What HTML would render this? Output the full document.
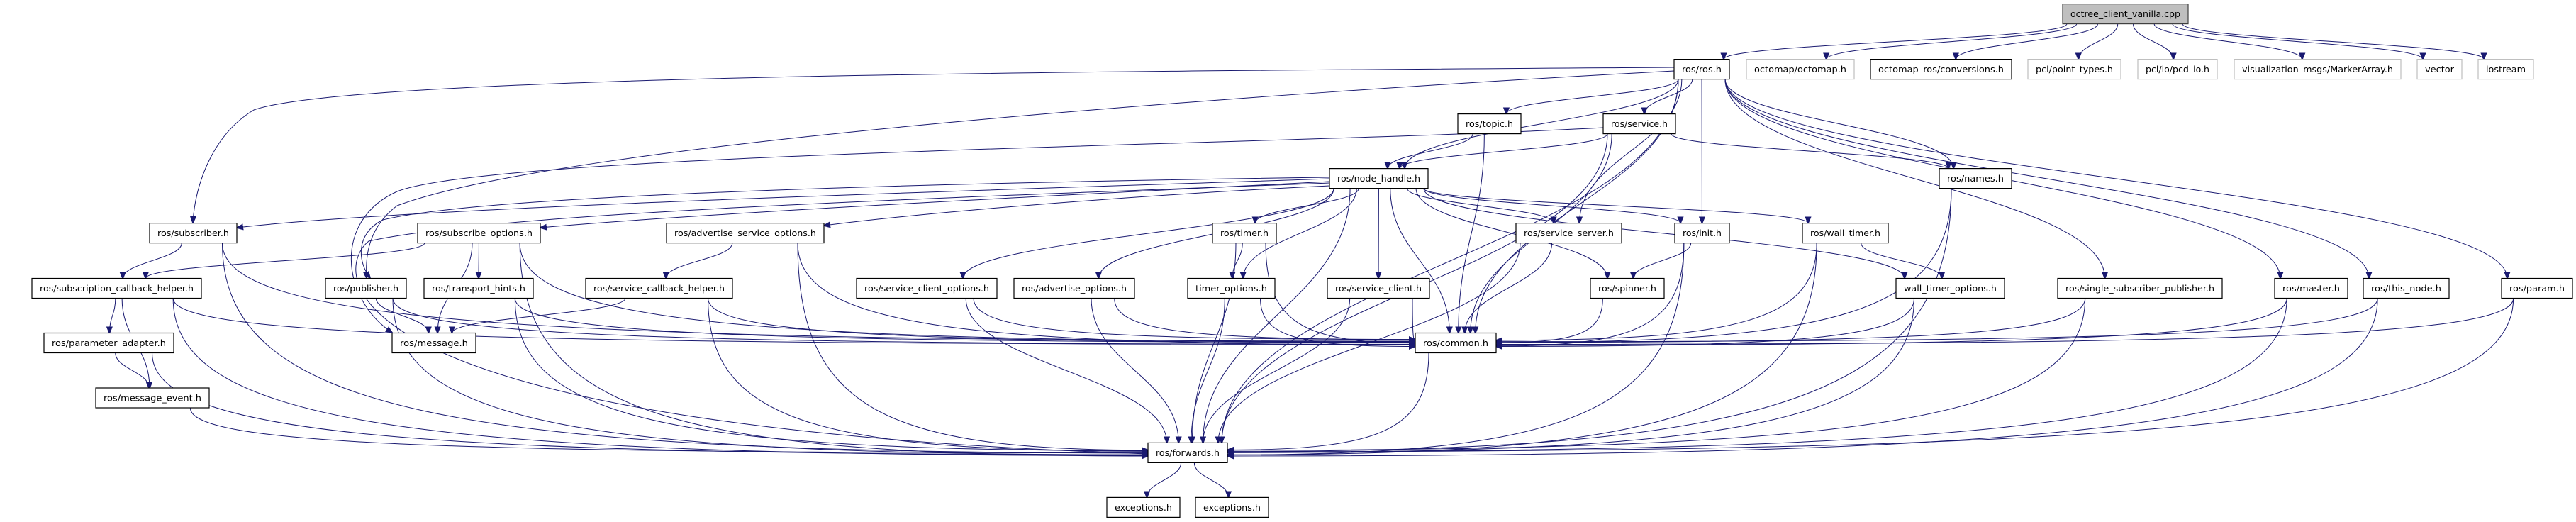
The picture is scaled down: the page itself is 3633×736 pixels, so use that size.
<!DOCTYPE html>
<html><head><meta charset="utf-8">
<style>
html,body{margin:0;padding:0;background:#fff;}
svg{display:block;}
text{font-family:"DejaVu Sans","Liberation Sans",sans-serif;font-size:12px;fill:#000;}
</style></head>
<body>
<svg id="g" width="3633" height="736" viewBox="0 0 3633 736" xmlns="http://www.w3.org/2000/svg">
<defs>
<marker id="ah" viewBox="0 0 10 10" refX="9" refY="5" markerWidth="10" markerHeight="10" markerUnits="userSpaceOnUse" orient="auto">
<path d="M0,1 L10,5 L0,9 z" fill="#191970" stroke="#191970"/>
</marker>
</defs>
<g id="edges" fill="none" stroke="#191970" stroke-width="1"></g>
<g id="nodes"></g>
</svg>
<script>
var R=[5.6,83.6,160.6,237.6,314.6,392.5,469.5,547,624.4,701.4];
var H=28;
var N={
oc:["octree_client_vanilla.cpp",2909,3086,0,2],
ros:["ros/ros.h",2361,2439,1,0],
om:["octomap/octomap.h",2463,2615,1,1],
cv:["octomap_ros/conversions.h",2638,2837,1,0],
pt:["pcl/point_types.h",2860,2991,1,1],
pcd:["pcl/io/pcd_io.h",3015,3127,1,1],
ma:["visualization_msgs/MarkerArray.h",3151,3386,1,1],
vec:["vector",3409,3472,1,1],
ios:["iostream",3495,3573,1,1],
top:["ros/topic.h",2056,2145,2,0],
srv:["ros/service.h",2261,2363,2,0],
nh:["ros/node_handle.h",1875,2014,3,0],
nm:["ros/names.h",2735,2837,3,0],
sub:["ros/subscriber.h",211,334,4,0],
so:["ros/subscribe_options.h",589,762,4,0],
aso:["ros/advertise_service_options.h",940,1162,4,0],
tm:["ros/timer.h",1710,1800,4,0],
ss:["ros/service_server.h",2138,2287,4,0],
ini:["ros/init.h",2362,2439,4,0],
wt:["ros/wall_timer.h",2542,2663,4,0],
sch:["ros/subscription_callback_helper.h",45,284,5,0],
pub:["ros/publisher.h",459,573,5,0],
th:["ros/transport_hints.h",598,752,5,0],
sbh:["ros/service_callback_helper.h",826,1033,5,0],
sco:["ros/service_client_options.h",1208,1406,5,0],
ao:["ros/advertise_options.h",1430,1600,5,0],
to:["timer_options.h",1675,1798,5,0],
sc:["ros/service_client.h",1872,2016,5,0],
sp:["ros/spinner.h",2243,2347,5,0],
wto:["wall_timer_options.h",2674,2827,5,0],
ssp:["ros/single_subscriber_publisher.h",2902,3134,5,0],
ms:["ros/master.h",3208,3311,5,0],
tn:["ros/this_node.h",3333,3454,5,0],
pr:["ros/param.h",3528,3628,5,0],
pa:["ros/parameter_adapter.h",62,245,6,0],
msg:["ros/message.h",553,671,6,0],
cm:["ros/common.h",1996,2110,6,0],
me:["ros/message_event.h",135,295,7,0],
fw:["ros/forwards.h",1619,1731,8,0],
ex1:["exceptions.h",1561,1664,9,0],
ex2:["exceptions.h",1686,1789,9,0]
};
var E=[
"oc ros","oc om","oc cv","oc pt","oc pcd","oc ma","oc vec","oc ios",
"ros nh","ros top","ros srv","ros ss","ros ini","ros nm","ros cm","ros fw","ros ssp","ros ms","ros tn","ros pr",
"top nh","top cm","srv nh","srv nm","srv cm","srv fw",
"nh tm","nh sco","nh ao","nh to","nh sc","nh cm","nh sp","nh ss","nh ini","nh wt","nh wto","nh fw",
"sub sch","sub cm","sub fw","so sch","so th","so msg","so cm","so fw","aso sbh","aso cm","aso fw",
"sch pa","sch me","sch fw","sch cm","pa me","pa fw","me fw","pub msg","pub fw","pub cm","th fw","th cm",
"sbh msg","sbh fw","sbh cm","sco fw","sco cm","ao fw","ao cm","tm to","tm cm","tm fw","to fw","to cm",
"sc fw","sc cm","ss cm","ss fw","ini sp","ini cm","ini fw","sp cm","wt wto","wt cm","wt fw","wto cm","wto fw",
"nm cm","nm fw","ssp cm","ssp fw","ms cm","ms fw","tn cm","tn fw","pr cm","pr fw","cm fw","fw ex1","fw ex2"
];
var custom=[
"M2361,95 C1600,100 500,105 358,155 C300,190 275,260 272,314",
"M2361,100 C1800,130 800,200 560,290 C520,320 515,360 517,392",
"M1875,250 C1500,255 700,270 540,310 C500,330 505,370 522,392",
"M2261,180 C1800,205 700,215 560,270 C470,310 480,420 553,469",
"M1875,252 C1500,265 600,290 334,321",
"M1875,256 C1500,275 1000,300 762,321",
"M1875,262 C1600,275 1300,300 1162,318",
"M1875,258 C1300,280 700,300 520,340 C470,380 440,600 1619,640"
];
function c(n){var d=N[n];return {x1:d[1],x2:d[2],cx:(d[1]+d[2])/2,t:R[d[3]],b:R[d[3]]+H,cy:R[d[3]]+H/2};}
var eg=document.getElementById("edges"),ng=document.getElementById("nodes");
var ns="http://www.w3.org/2000/svg";
function addPath(d){var p=document.createElementNS(ns,"path");p.setAttribute("d",d);p.setAttribute("marker-end","url(#ah)");eg.appendChild(p);}
var seed=1;function rnd(){seed=(seed*9301+49297)%233280;return seed/233280;}
E.forEach(function(e){
 var a=e.split(" "),s=c(a[0]),t=c(a[1]);
 var sx=s.cx,sy=s.b,dy=t.t-sy;
 var dx=t.cx-sx;
 var side=(a[1]=="cm"||a[1]=="fw")&&Math.abs(dx)>2.2*Math.max(dy,20);
 if(side){
   var ex=dx>0?t.x1:t.x2, ey=t.cy+(rnd()*10-5);
   sx=dx>0?Math.min(s.x2-8,sx+(s.x2-s.x1)/3):Math.max(s.x1+8,sx-(s.x2-s.x1)/3);
   addPath("M"+sx+","+sy+" C"+sx+","+(sy+(ey-sy)*0.8)+" "+(sx+(ex-sx)*0.25)+","+ey+" "+ex+","+ey);
 } else {
   var tw=(t.x2-t.x1)/2-8, sw=(s.x2-s.x1)/2-6;
   var tx=t.cx+Math.max(-tw,Math.min(tw,-dx*0.08));
   sx=s.cx+Math.max(-sw,Math.min(sw,dx*0.15));
   addPath("M"+sx+","+sy+" C"+sx+","+(sy+dy*0.45)+" "+tx+","+(t.t-dy*0.45)+" "+tx+","+t.t);
 }
});
custom.forEach(addPath);
for(var k in N){
 var d=N[k],x=d[1],w=d[2]-d[1],y=R[d[3]];
 var r=document.createElementNS(ns,"rect");
 r.setAttribute("x",x);r.setAttribute("y",y);r.setAttribute("width",w);r.setAttribute("height",H);
 r.setAttribute("fill",d[4]==2?"#bfbfbf":"#fff");
 r.setAttribute("stroke",d[4]==1?"#bfbfbf":(d[4]==2?"#404040":"#000"));
 r.setAttribute("stroke-width","1.2");
 ng.appendChild(r);
 var t=document.createElementNS(ns,"text");
 t.setAttribute("x",x+w/2);t.setAttribute("y",y+18.5);t.setAttribute("text-anchor","middle");
 t.setAttribute("textLength",Math.max(10,w-22));t.setAttribute("lengthAdjust","spacingAndGlyphs");
 t.textContent=d[0];ng.appendChild(t);
}
</script>
</body></html>
